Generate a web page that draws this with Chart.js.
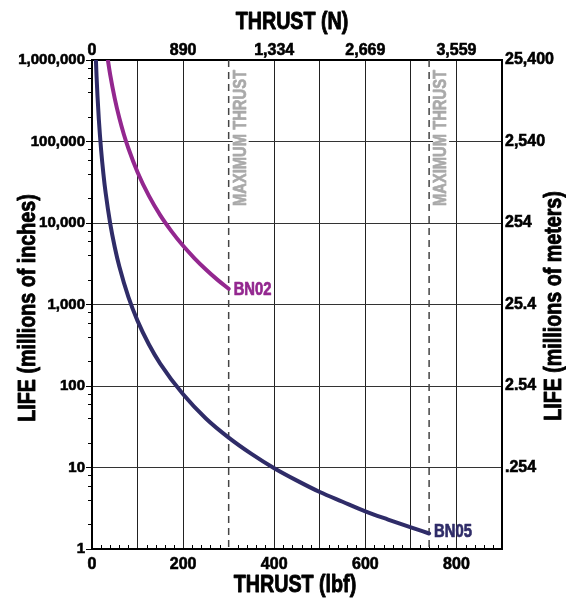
<!DOCTYPE html>
<html><head><meta charset="utf-8">
<script src="https://cdn.jsdelivr.net/npm/chart.js@4"></script>
<style>html,body{margin:0;padding:0;background:#fff}#wrap{width:566px;height:601px}</style>
</head><body><div id="wrap"><canvas id="c" width="566" height="601"></canvas></div>
<script>
// ---- data ----
const thrustTicksLbf = [0,100,200,300,400,500,600,700,800,900];
const thrustLabelsLbf = ['0','','200','','400','','600','','800',''];
const thrustTicksTop = [0,200,400,600,800];
const thrustLabelsN = ['0','890','1,334','2,669','3,559'];
const lifeTicks = [1,10,100,1000,10000,100000,1000000];
const lifeLabelsInches = ['1','10','100','1,000','10,000','100,000','1,000,000'];
const lifeLabelsMeters = ['','.254','2.54','25.4','254','2,540','25,400'];
const bn05Thrust = [8,10,12,15,20,25,30,40,50,60,80,100,125,150,200,250,300,350,400,450,500,550,600,650,700,740];
const bn05Life = [1230000,630000,365000,187000,79000,40300,23300,9840,5040,2920,1230,630,323,187,79,40,23.3,14.7,9.8,6.9,5.0,3.8,2.9,2.3,1.84,1.55];
const bn02Thrust = [33,40,50,60,70,80,100,125,150,175,200,225,250,275,300];
const bn02Life = [1170000,656000,336000,194000,122000,82000,42000,21500,12400,7840,5250,3690,2690,2020,1560];
const maxThrustLbf = [300,740];
const minorLifeMult = [2,4,6,8];
const minorThrustStep = 20;

const FN = "'Liberation Sans',Arial,sans-serif";
const SQ = 0.82; // horizontal squeeze to imitate a condensed face
const NAVY = '#2f2c68', PURPLE = '#93278f', MAXGRAY = '#a9a9a9';
const xy = (xs, ys) => xs.map((x, i) => ({x: x, y: ys[i]}));

function squeezedText(ctx, txt, x, y, rot, align, baseline, stroke) {
  ctx.save();
  ctx.translate(x, y);
  if (rot) ctx.rotate(rot);
  ctx.scale(SQ, 1);
  ctx.textAlign = align; ctx.textBaseline = baseline;
  if (stroke) { ctx.lineWidth = stroke; ctx.strokeStyle = ctx.fillStyle; ctx.lineJoin = 'round'; ctx.strokeText(txt, 0, 0); }
  ctx.fillText(txt, 0, 0);
  ctx.restore();
}

const deco = {
  id: 'deco',
  beforeDatasetsDraw(chart) {
    const {ctx, chartArea: a, scales: {x, y}} = chart;
    ctx.save();
    ctx.strokeStyle = '#000'; ctx.lineWidth = 1;
    for (let d = 0; d < 6; d++) for (const m of minorLifeMult) {
      const py = Math.round(y.getPixelForValue(m * Math.pow(10, d))) + 0.5;
      ctx.beginPath(); ctx.moveTo(a.left - 4, py); ctx.lineTo(a.left, py); ctx.stroke();
    }
    for (let v = minorThrustStep; v < 900; v += minorThrustStep) {
      if (v % 100 === 0) continue;
      const px = Math.round(x.getPixelForValue(v)) + 0.5;
      ctx.beginPath(); ctx.moveTo(px, a.bottom); ctx.lineTo(px, a.bottom - 4); ctx.stroke();
    }
    ctx.setLineDash([7, 5]); ctx.strokeStyle = '#444'; ctx.lineWidth = 1.5;
    for (const m of maxThrustLbf) {
      const px = x.getPixelForValue(m);
      ctx.beginPath(); ctx.moveTo(px, a.top); ctx.lineTo(px, a.bottom); ctx.stroke();
    }
    ctx.setLineDash([]);
    ctx.font = 'bold 18px ' + FN;
    const txt = 'MAXIMUM THRUST';
    const w = ctx.measureText(txt).width * SQ;
    for (const m of maxThrustLbf) {
      const px = x.getPixelForValue(m) + 12;
      ctx.fillStyle = '#fff';
      ctx.fillRect(px - 8, a.top + 8, 16, w + 4);
      ctx.fillStyle = MAXGRAY;
      squeezedText(ctx, txt, px, a.top + 10, -Math.PI / 2, 'right', 'middle', 0.7);
    }
    ctx.restore();
  },
  afterDatasetsDraw(chart) {
    const {ctx, scales: {x, y}} = chart;
    ctx.save();
    ctx.font = 'bold 18px ' + FN;
    const e2 = bn02Thrust.length - 1, e5 = bn05Thrust.length - 1;
    ctx.fillStyle = PURPLE;
    squeezedText(ctx, 'BN02', x.getPixelForValue(bn02Thrust[e2]) + 5, y.getPixelForValue(bn02Life[e2]) + 1, 0, 'left', 'middle', 0.7);
    ctx.fillStyle = NAVY;
    squeezedText(ctx, 'BN05', x.getPixelForValue(bn05Thrust[e5]) + 5, y.getPixelForValue(bn05Life[e5]) - 1, 0, 'left', 'middle', 0.7);
    ctx.restore();
  },
  afterDraw(chart) {
    const {ctx} = chart;
    ctx.save();
    ctx.fillStyle = '#000';
    ctx.font = 'bold 24px ' + FN;
    squeezedText(ctx, 'THRUST (N)', 292, 29, 0, 'center', 'alphabetic', 0.9);
    squeezedText(ctx, 'THRUST (lbf)', 295, 592, 0, 'center', 'alphabetic', 0.9);
    squeezedText(ctx, 'LIFE (millions of inches)', 35, 308, -Math.PI / 2, 'center', 'alphabetic', 0.9);
    squeezedText(ctx, 'LIFE (millions of meters)', 561, 306, -Math.PI / 2, 'center', 'alphabetic', 0.9);
    ctx.restore();
  }
};

const tickOpts = (s, pad, cb) => ({callback: cb, font: {family: FN, size: s, weight: 'bold'}, color: '#000',
  padding: pad, maxRotation: 0, autoSkip: false, textStrokeColor: '#000', textStrokeWidth: 0.6});

new Chart(document.getElementById('c'), {
  type: 'line',
  data: {datasets: [
    {label: 'BN05', data: xy(bn05Thrust, bn05Life), borderColor: NAVY, borderWidth: 4, pointRadius: 0,
     cubicInterpolationMode: 'monotone', clip: 0, borderCapStyle: 'round', xAxisID: 'x', yAxisID: 'y'},
    {label: 'BN02', data: xy(bn02Thrust, bn02Life), borderColor: PURPLE, borderWidth: 4, pointRadius: 0,
     cubicInterpolationMode: 'monotone', clip: 0, borderCapStyle: 'round', xAxisID: 'x', yAxisID: 'y'}
  ]},
  options: {
    responsive: false, animation: false, devicePixelRatio: 1,
    layout: {padding: 0},
    plugins: {legend: {display: false}, tooltip: {enabled: false}},
    scales: {
      x: {type: 'linear', position: 'bottom', min: 0, max: 900,
        afterBuildTicks: s => { s.ticks = thrustTicksLbf.map(v => ({value: v})); },
        afterFit: s => { s.height = 52; },
        ticks: tickOpts(16, 6, (v, i) => thrustLabelsLbf[i]),
        grid: {color: c => (c.tick && c.tick.value === 300) ? 'rgba(0,0,0,0)' : '#222', lineWidth: 1, drawTicks: false},
        border: {color: '#000', width: 2}},
      x2: {type: 'linear', position: 'top', min: 0, max: 900,
        afterBuildTicks: s => { s.ticks = thrustTicksTop.map(v => ({value: v})); },
        afterFit: s => { s.height = 60; },
        ticks: tickOpts(16, 0, (v, i) => thrustLabelsN[i]),
        grid: {display: false, drawOnChartArea: false, drawTicks: false},
        border: {display: true, color: '#000', width: 2}},
      y: {type: 'logarithmic', position: 'left', min: 1, max: 1000000,
        afterBuildTicks: s => { s.ticks = lifeTicks.map(v => ({value: v})); },
        afterFit: s => { s.width = 92; },
        ticks: tickOpts(15, 1, (v, i) => lifeLabelsInches[i]),
        grid: {color: '#333', lineWidth: 1, tickColor: '#000', tickLength: 6},
        border: {color: '#000', width: 2}},
      y2: {type: 'logarithmic', position: 'right', min: 1, max: 1000000,
        afterBuildTicks: s => { s.ticks = lifeTicks.map(v => ({value: v})); },
        afterFit: s => { s.width = 64; },
        ticks: tickOpts(16, 3, (v, i) => lifeLabelsMeters[i]),
        grid: {display: false, drawOnChartArea: false, drawTicks: false},
        border: {display: true, color: '#000', width: 2}}
    }
  },
  plugins: [deco]
});
</script>
</body></html>
